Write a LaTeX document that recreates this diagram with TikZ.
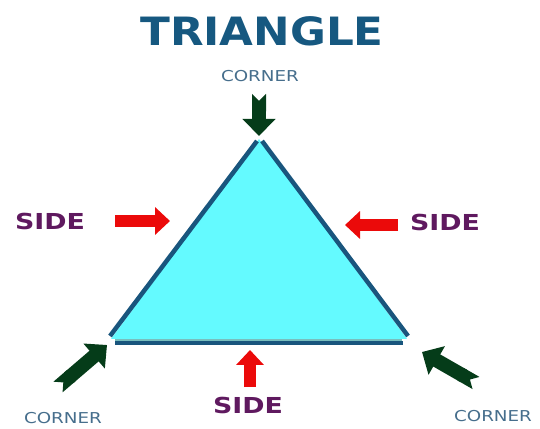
\documentclass[tikz,border=0pt]{standalone}
\usepackage{fontspec}
\setsansfont{DejaVu Sans}
\usetikzlibrary{arrows.meta}

\definecolor{titleblue}{RGB}{22,88,128}
\definecolor{cornergray}{RGB}{70,110,140}
\definecolor{sidepurple}{RGB}{95,25,95}
\definecolor{edgeblue}{RGB}{25,85,125}
\definecolor{stripeteal}{RGB}{120,190,190}
\definecolor{fillcyan}{RGB}{100,250,255}
\definecolor{arrowgreen}{RGB}{5,60,25}
\definecolor{arrowred}{RGB}{235,10,10}

\begin{document}
\begin{tikzpicture}[
        x=1pt, y=1pt,
        title/.style={inner sep=0, text=titleblue, font=\sffamily\bfseries\fontsize{39}{39}\selectfont},
        cornerlabel/.style={inner sep=0, text=cornergray, font=\sffamily\fontsize{15}{15}\selectfont},
        sidelabel/.style={inner sep=0, text=sidepurple, font=\sffamily\bfseries\fontsize{22}{22}\selectfont},
        edgeline/.style={draw=edgeblue, line width=4.5pt},
        cornerarrow/.style={draw=arrowgreen, line width=14pt, {Triangle Cap[reversed]}-{Triangle[width=32pt,length=17pt]}},
        sidearrow/.style={draw=arrowred, line width=12pt, -{Triangle[width=27pt,length=15pt]}}
    ]
        \useasboundingbox (0,0) rectangle (540,428);

        % Triangle
        \coordinate (apex) at (259,289);
        \coordinate (left) at (111,89);
        \coordinate (right) at (407,89);
        \fill[fillcyan] (apex) -- (left) -- (right) -- cycle;
        \draw[edgeline] (257,287) -- (110,92);
        \draw[edgeline] (262,287) -- (408,92);
        \draw[stripeteal, line width=2pt] (115,88) -- (402,88);
        \draw[edgeblue, line width=3.5pt] (115,85) -- (403,85);

        % Labels
        \node[title] (head) at (262,397) {\scalebox{1.12}[1]{TRIANGLE}};
        \node[cornerlabel] (cornerTop) at (260,352) {\scalebox{1.22}[1]{CORNER}};
        \node[cornerlabel] (cornerLeft) at (63,10) {\scalebox{1.22}[1]{CORNER}};
        \node[cornerlabel] (cornerRight) at (493,12) {\scalebox{1.22}[1]{CORNER}};
        \node[sidelabel] (sideLeft) at (50,207) {\scalebox{1.22}[1]{SIDE}};
        \node[sidelabel] (sideRight) at (445,206) {\scalebox{1.22}[1]{SIDE}};
        \node[sidelabel] (sideBottom) at (248,23) {\scalebox{1.22}[1]{SIDE}};

        % Arrow ends
        \coordinate (topTail) at (259,334);
        \coordinate (topTip) at (259,292);
        \coordinate (blTail) at (58,41);
        \coordinate (blTip) at (107,83);
        \coordinate (brTail) at (476,45);
        \coordinate (brTip) at (422,76);
        \coordinate (lTail) at (115,207);
        \coordinate (lTip) at (170,207);
        \coordinate (rTail) at (398,203);
        \coordinate (rTip) at (345,203);
        \coordinate (bTail) at (250,41);
        \coordinate (bTip) at (250,78);

        % Arrows
        \path
            (topTail) edge[cornerarrow] (topTip)
            (blTail) edge[cornerarrow] (blTip)
            (brTail) edge[cornerarrow] (brTip)
            (lTail) edge[sidearrow] (lTip)
            (rTail) edge[sidearrow] (rTip)
            (bTail) edge[sidearrow] (bTip);
    \end{tikzpicture}
\end{document}
